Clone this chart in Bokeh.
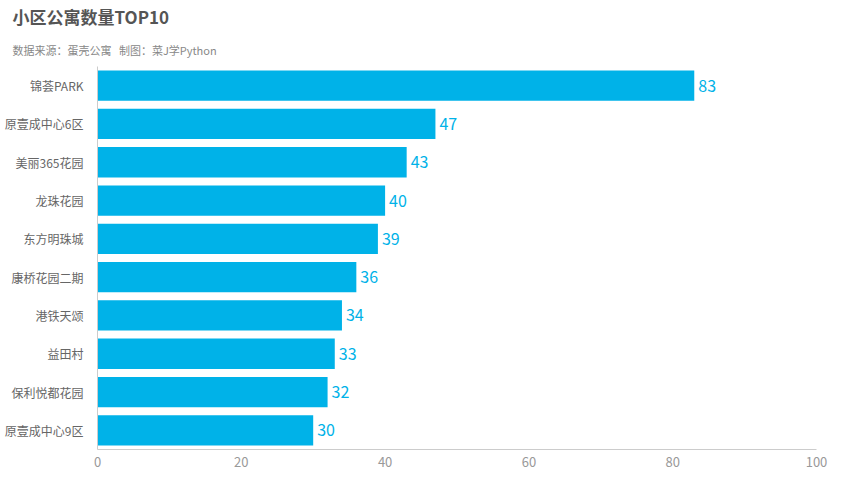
from bokeh.plotting import figure
from bokeh.models import ColumnDataSource, Title, SingleIntervalTicker
from bokeh.embed import file_html
from bokeh.resources import INLINE

categories = ["锦荟PARK", "原壹成中心6区", "美丽365花园", "龙珠花园", "东方明珠城",
              "康桥花园二期", "港铁天颂", "益田村", "保利悦都花园", "原壹成中心9区"]
counts = [83, 47, 43, 40, 39, 36, 34, 33, 32, 30]
x_ticks_interval = 20

FONT = "Noto Sans CJK SC"
BLUE = "#00B2E8"

src = ColumnDataSource(dict(cat=categories, val=counts, lab=[str(v) for v in counts]))

p = figure(width=844, height=475, output_backend="svg", toolbar_location=None,
           y_range=list(reversed(categories)), x_range=(0, 100),
           title="小区公寓数量TOP10",
           min_border_left=97, min_border_right=28, min_border_top=4, min_border_bottom=26)
p.title.text_font = FONT
p.title.text_font_size = "17px"
p.title.text_font_style = "bold"
p.title.text_color = "#555555"
p.title.offset = -85
p.title.standoff = 3
p.add_layout(Title(text="数据来源：蛋壳公寓\u00a0\u00a0\u00a0制图：菜J学Python", text_font=FONT,
                   text_font_size="11px", text_font_style="normal", text_color="#888888",
                   offset=-85, standoff=18), "above")

p.hbar(y="cat", right="val", left=0, height=0.79, source=src, color=BLUE, line_color=None)
p.text(x="val", y="cat", text="lab", source=src, x_offset=4, text_baseline="middle",
       text_align="left", text_color=BLUE, text_font_size="16px", text_font={"value": FONT})

p.xgrid.visible = False
p.ygrid.visible = False
p.outline_line_color = None
p.background_fill_color = "white"

p.xaxis.ticker = SingleIntervalTicker(interval=x_ticks_interval)
p.xaxis.axis_line_color = "#cccccc"
p.xaxis.major_tick_line_color = None
p.xaxis.minor_tick_line_color = None
p.xaxis.major_label_text_color = "#999999"
p.xaxis.major_label_text_font = FONT
p.xaxis.major_label_text_font_size = "13px"
p.xaxis.major_label_standoff = 1

p.yaxis.axis_line_color = "#cccccc"
p.yaxis.major_tick_line_color = None
p.yaxis.minor_tick_line_color = None
p.yaxis.major_label_text_color = "#666666"
p.yaxis.major_label_text_font = FONT
p.yaxis.major_label_text_font_size = "12px"
p.yaxis.major_label_standoff = 8

p.y_range.range_padding = 0.0

open("out.html", "w").write(file_html(p, INLINE))
